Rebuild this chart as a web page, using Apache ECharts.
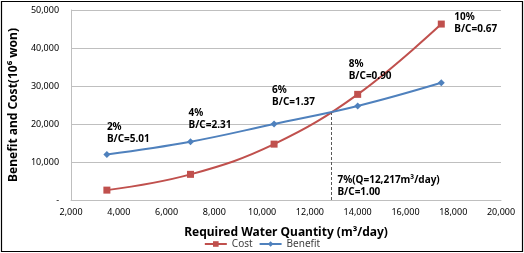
<!DOCTYPE html>
<html>
<head>
<meta charset="utf-8">
<script src="https://cdn.jsdelivr.net/npm/echarts@6/dist/echarts.min.js"></script>
<style>
  html, body { margin: 0; padding: 0; background: #fff; }
  #main { width: 524px; height: 253px; }
</style>
</head>
<body>
<div id="main"></div>
<script>
// data
var quantity = [3500, 7000, 10500, 14000, 17500];
var cost = [2600, 6750, 14700, 27800, 46300];
var benefit = [12000, 15350, 20000, 24750, 30850];
var rateLabels = ['2%\nB/C=5.01', '4%\nB/C=2.31', '6%\nB/C=1.37', '8%\nB/C=0.90', '10%\nB/C=0.67'];
var breakEvenQ = 12900;
var breakEvenValue = 23000;
var breakEvenLabel = '7%(Q=12,217m³/day)\nB/C=1.00';

var chart = echarts.init(document.getElementById('main'));

var labelFont = { fontFamily: 'Noto Sans', fontSize: 10, fontWeight: 'bold', color: '#000', lineHeight: 12 };

function fmt(v) {
    if (v === 0) return '-';
    return v.toString().replace(/\B(?=(\d{3})+(?!\d))/g, ',');
}

// labels sit next to a point, offset in pixels
var benefitData = benefit.map(function (v, i) {
    var item = { value: [quantity[i], v] };
    var offs = [[0, -21], [-2, -23], [-2, -28]];
    if (i < 3) {
        item.label = Object.assign({
            show: true, formatter: rateLabels[i], position: 'inside',
            align: 'left', verticalAlign: 'middle', offset: offs[i]
        }, labelFont);
    }
    return item;
});
var costData = cost.map(function (v, i) {
    var item = { value: [quantity[i], v] };
    var offs = { 3: [-9, -24], 4: [13, -1] };
    if (offs[i]) {
        item.label = Object.assign({
            show: true, formatter: rateLabels[i], position: 'inside',
            align: 'left', verticalAlign: 'middle', offset: offs[i]
        }, labelFont);
    }
    return item;
});

var option = {
    backgroundColor: '#fff',
    animation: false,
    grid: { left: 59, right: 23, top: 10, bottom: 53 },
    legend: {
        bottom: -1,
        left: 'center',
        itemWidth: 22,
        itemHeight: 7,
        itemGap: 6,
        textStyle: { fontFamily: 'Noto Sans', fontSize: 10, color: '#404040' },
        data: ['Cost', 'Benefit']
    },
    xAxis: {
        type: 'value',
        min: 2000,
        max: 20000,
        interval: 2000,
        name: 'Required Water Quantity (m³/day)',
        nameLocation: 'middle',
        nameGap: 27,
        nameTextStyle: { fontFamily: 'Noto Sans', fontSize: 12, fontWeight: 'bold', color: '#000' },
        axisLine: { lineStyle: { color: '#bfbfbf' } },
        axisTick: { show: false },
        splitLine: { show: false },
        axisLabel: { formatter: fmt, fontFamily: 'Noto Sans', fontSize: 9, color: '#000', margin: 8 }
    },
    yAxis: {
        type: 'value',
        min: 0,
        max: 50000,
        interval: 10000,
        name: 'Benefit and Cost(10⁶ won)',
        nameLocation: 'middle',
        nameGap: 46,
        nameTextStyle: { fontFamily: 'Noto Sans', fontSize: 12, fontWeight: 'bold', color: '#000' },
        axisLine: { show: true, lineStyle: { color: '#bfbfbf' } },
        axisTick: { show: false },
        splitLine: { lineStyle: { color: '#bfbfbf', width: 1 } },
        axisLabel: { formatter: fmt, fontFamily: 'Noto Sans', fontSize: 9, color: '#000', margin: 12 }
    },
    graphic: [{
        type: 'rect',
        shape: { x: 1.5, y: 1.5, width: 521, height: 250 },
        style: { fill: 'none', stroke: '#000', lineWidth: 1.2 },
        silent: true
    }],
    series: [
        {
            name: 'Cost',
            type: 'line',
            smooth: 0.4,
            symbol: 'rect',
            symbolSize: 7,
            itemStyle: { color: '#c0504d' },
            lineStyle: { color: '#c0504d', width: 2 },
            data: costData
        },
        {
            name: 'Benefit',
            type: 'line',
            smooth: 0.4,
            symbol: 'diamond',
            symbolSize: 7,
            itemStyle: { color: '#4f81bd' },
            lineStyle: { color: '#4f81bd', width: 2 },
            data: benefitData,
            markLine: {
                silent: true,
                symbol: 'none',
                label: { show: false },
                lineStyle: { color: '#595959', type: [3, 2], width: 1 },
                data: [[{ coord: [breakEvenQ, 0] }, { coord: [breakEvenQ, breakEvenValue] }]]
            },
            markPoint: {
                silent: true,
                symbolSize: 0,
                data: [{
                    coord: [breakEvenQ, 0],
                    label: Object.assign({
                        show: true, formatter: breakEvenLabel, position: 'inside',
                        align: 'left', verticalAlign: 'middle', offset: [6, -14]
                    }, labelFont)
                }]
            }
        }
    ]
};

if (option && typeof option === "object") {
    chart.setOption(option, true);
}
</script>
</body>
</html>
